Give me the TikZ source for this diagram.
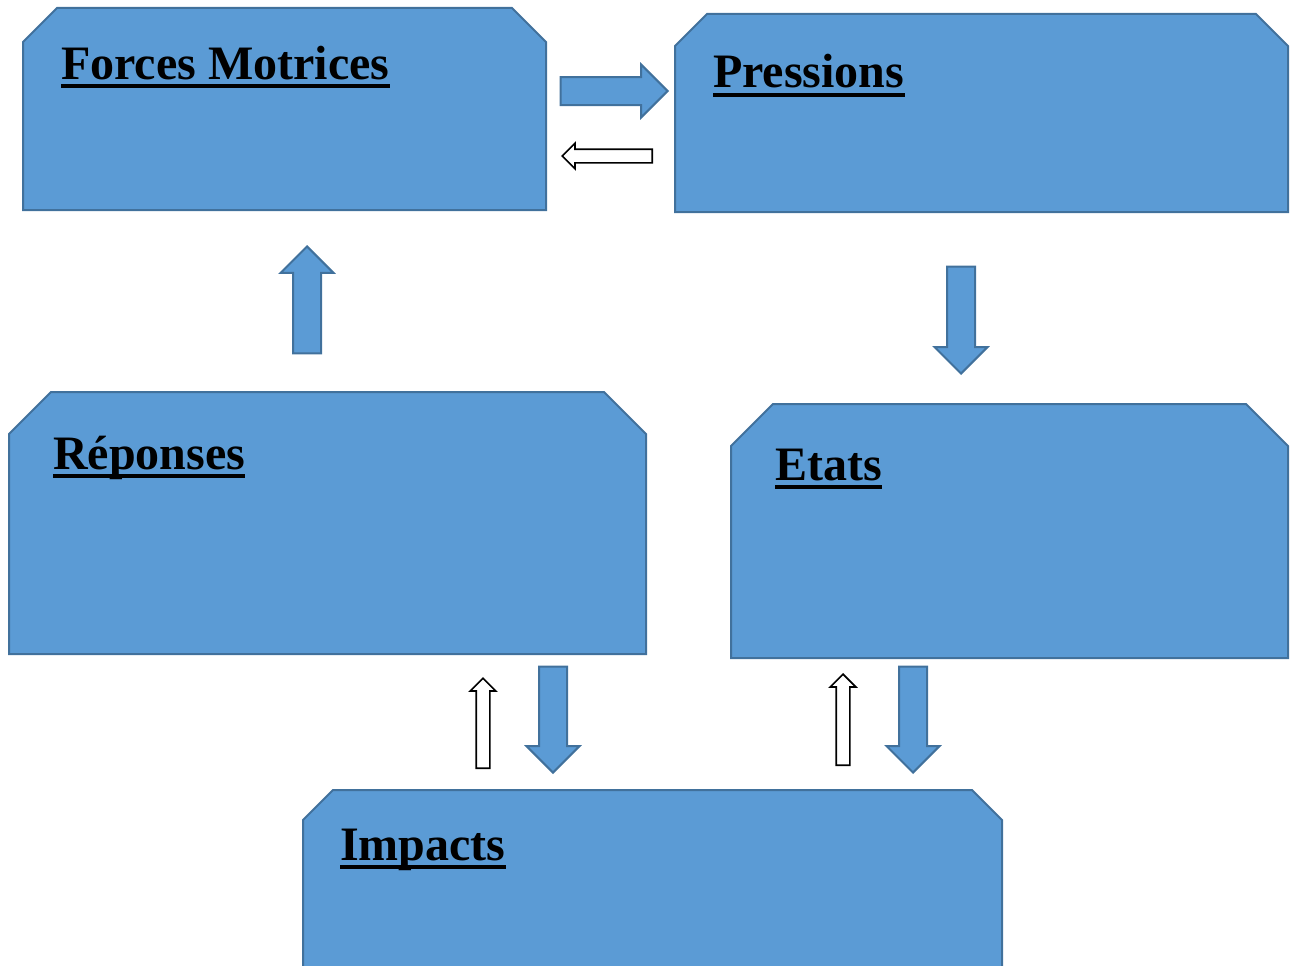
\documentclass[tikz,border=0pt]{standalone}
\usepackage{fontspec}
\setmainfont{Liberation Serif}
\usetikzlibrary{shapes.arrows}
\definecolor{boxblue}{HTML}{5B9BD5}
\definecolor{boxedge}{HTML}{41719C}

\begin{document}
\begin{tikzpicture}[x=1pt, y=-1pt,
  area/.style={rectangle, inner sep=0pt, outer sep=0pt},
  boxline/.style={draw=boxedge, fill=boxblue, line width=2pt, line join=miter},
  title/.style={anchor=base west, inner sep=0pt, font=\fontsize{48}{58}\selectfont\bfseries},
  uline/.style={line width=4.5pt},
  fullarr/.style={single arrow, anchor=tip, draw=boxedge, fill=boxblue, line width=2pt, inner xsep=0pt, inner ysep=13pt, single arrow head extend=12.5pt, single arrow head indent=0pt},
  thinarr/.style={single arrow, anchor=tip, draw=black, fill=white, line width=1.7pt, inner xsep=0pt, inner ysep=6pt, single arrow head extend=6pt, single arrow head indent=0pt}
]
\useasboundingbox (0,0) rectangle (1290,966);
\clip (0,0) rectangle (1290,966);

% boxes (areas, then outlines with cut top corners)
\node[area, minimum width=523pt, minimum height=202pt] (forces) at (284.5,109) {};
\node[area, minimum width=613pt, minimum height=198pt] (pressions) at (981.5,113) {};
\node[area, minimum width=637pt, minimum height=262pt] (reponses) at (327.5,523) {};
\node[area, minimum width=557pt, minimum height=254pt] (etats) at (1009.5,531) {};
\node[area, minimum width=699pt, minimum height=220pt] (impacts) at (652.5,900) {};
\foreach \n/\c in {forces/34,pressions/32,reponses/42,etats/42,impacts/30}
  \draw[boxline] ([yshift=-\c pt]\n.north west) -- ([xshift=\c pt]\n.north west)
    -- ([xshift=-\c pt]\n.north east) -- ([yshift=-\c pt]\n.north east)
    -- (\n.south east) -- (\n.south west) -- cycle;

% titles
\node[title] (forcesT) at (61,79) {Forces Motrices};
\node[title] (pressionsT) at (713,88) {Pressions};
\node[title] (reponsesT) at (53,469) {Réponses};
\node[title] (etatsT) at (775,480) {Etats};
\node[title] (impactsT) at (340,860) {Impacts};
\foreach \t in {forcesT,pressionsT,reponsesT,etatsT,impactsT}
  \draw[uline] ([yshift=-7pt]\t.base west) -- ([yshift=-7pt]\t.base east);

% block arrows
\node[fullarr, minimum height=107pt] (fp) at (669,91) {};
\node[thinarr, minimum height=90pt, rotate=180] (pf) at (561,156) {};
\node[fullarr, minimum height=107pt, rotate=90] (rf) at (307,245) {};
\node[fullarr, minimum height=107pt, rotate=-90] (pe) at (961,375) {};
\node[thinarr, minimum height=90pt, rotate=90] (ir) at (483,677) {};
\node[fullarr, minimum height=106pt, rotate=-90] (ri) at (553,774) {};
\node[thinarr, minimum height=91pt, rotate=90] (ie) at (843,673) {};
\node[fullarr, minimum height=106pt, rotate=-90] (ei) at (913,774) {};
\end{tikzpicture}
\end{document}
